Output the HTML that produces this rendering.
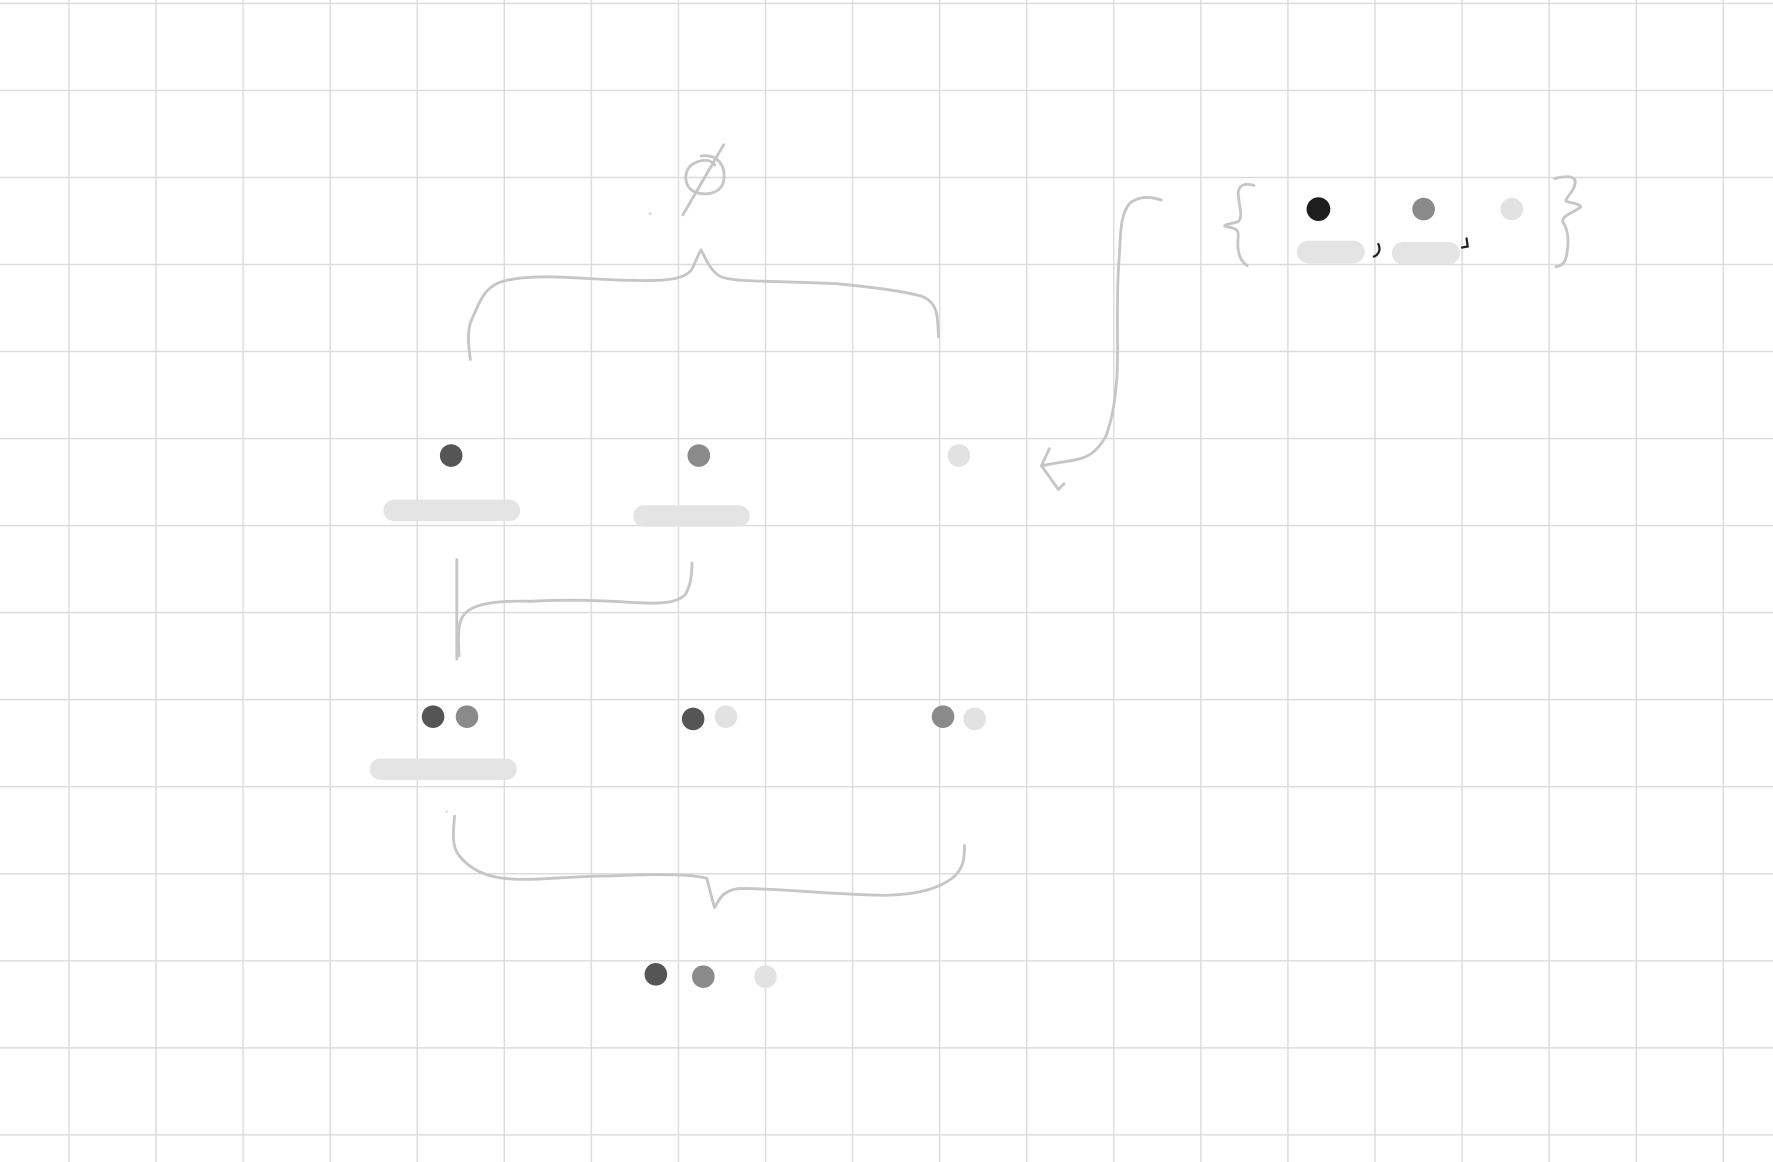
<!DOCTYPE html>
<html><head><meta charset="utf-8"><style>
html,body{margin:0;padding:0;background:#fff;overflow:hidden}
svg{display:block}
</style></head><body>
<svg width="1773" height="1162" viewBox="0 0 1568 1028" preserveAspectRatio="none" xmlns="http://www.w3.org/2000/svg">
<rect width="1568" height="1028" fill="#fff"/>
<g stroke="#dcdcdc" stroke-width="1.3">
<path d="M61 0V1028M138 0V1028M215 0V1028M292 0V1028M369 0V1028M446 0V1028M523 0V1028M600 0V1028M677 0V1028M754 0V1028M831 0V1028M908 0V1028M985 0V1028M1062 0V1028M1139 0V1028M1216 0V1028M1293 0V1028M1370 0V1028M1447 0V1028M1524 0V1028"/>
<path d="M0 3H1568M0 80H1568M0 157H1568M0 234H1568M0 311H1568M0 388H1568M0 465H1568M0 542H1568M0 619H1568M0 696H1568M0 773H1568M0 850H1568M0 927H1568M0 1004H1568"/>
</g>
<g fill="none" stroke="#c6c6c6" stroke-width="2.5" stroke-linecap="round" stroke-linejoin="round">
<!-- phi -->
<path d="M620 138 C636 136 642 148 640 160 C638 170 626 174 615 170 C604 166 604 150 613 145 C620 141 628 140 632 146"/>
<path d="M604 190 L640 128"/>
<!-- top brace -->
<path d="M416 318 C414 305 413 292 417 283 C424 268 428 252 448 248 C480 241 520 248 560 248 C590 249 606 247 612 238 C616 230 618 224 620 221 C624 228 627 238 636 244 C646 250 680 248 740 251 C780 255 800 258 815 262 C830 268 829 280 830 298"/>
<!-- connector bracket -->
<path d="M404 495 L404 583"/>
<path d="M406 580 C405 560 405 548 412 542 C420 534 440 531 470 532 C500 530 530 531 560 533 C590 535 600 532 606 526 C611 518 612 506 612 498"/>
<!-- arrow -->
<path d="M1027 177 C1015 173 1006 174 999 180 C992 188 991 200 990 225 C987 260 989 300 988 330 C986 360 983 372 978 386 C970 400 962 405 950 407 C940 409 930 410 922 412"/>
<path d="M928 397 L921 412 L936 433 L941 428"/>
<!-- bottom brace -->
<path d="M402 722 C401 735 399 748 406 757 C415 768 428 775 445 777 C470 780 500 775 540 775 C580 773 610 773 625 777 C628 788 630 797 632 803 C636 795 640 787 655 786 C690 786 730 791 780 792 C810 792 830 786 842 777 C852 769 853 760 853 748"/>
<!-- set braces -->
<path d="M1109 164 C1102 162 1096 163 1095 170 C1095 180 1100 192 1095 196 C1090 198 1084 198 1083 200 C1090 202 1096 201 1095 210 C1094 220 1095 230 1103 235"/>
<path d="M1375 158 C1382 156 1392 155 1393 160 C1394 168 1384 175 1385 178 C1390 180 1397 180 1398 183 C1392 188 1382 190 1382 196 C1386 202 1388 210 1386 222 C1385 232 1382 235 1376 236"/>
</g>
<!-- commas -->
<g fill="none" stroke="#222" stroke-width="2" stroke-linecap="round">
<path d="M1219 216 C1221 220 1220 225 1215 227"/>
<path d="M1297 211 L1298 218 L1293 219"/>
</g>
<circle cx="575" cy="189" r="0.8" fill="#aaa"/>
<circle cx="395" cy="718" r="0.8" fill="#ccc"/>
<!-- bars -->
<g fill="#e4e4e4">
<rect x="339" y="442" width="121" height="19" rx="9.5"/>
<rect x="560" y="447" width="103" height="19" rx="9.5"/>
<rect x="327" y="671" width="130" height="19" rx="9.5"/>
<rect x="1147" y="213" width="60" height="20" rx="10"/>
<rect x="1231" y="214" width="60" height="20" rx="10"/>
</g>
<!-- dots -->
<circle cx="399" cy="403" r="10" fill="#555"/>
<circle cx="618" cy="403" r="10" fill="#8a8a8a"/>
<circle cx="848" cy="403" r="10" fill="#e2e2e2"/>
<circle cx="383" cy="634" r="10" fill="#555"/>
<circle cx="413" cy="634" r="10" fill="#8a8a8a"/>
<circle cx="613" cy="636" r="10" fill="#555"/>
<circle cx="642" cy="634" r="10" fill="#e2e2e2"/>
<circle cx="834" cy="634" r="10" fill="#8a8a8a"/>
<circle cx="862" cy="636" r="10" fill="#e2e2e2"/>
<circle cx="580" cy="862" r="10" fill="#555"/>
<circle cx="622" cy="864" r="10" fill="#8a8a8a"/>
<circle cx="677" cy="864" r="10" fill="#e2e2e2"/>
<circle cx="1166" cy="185" r="10.5" fill="#1e1e1e"/>
<circle cx="1259" cy="185" r="10" fill="#8a8a8a"/>
<circle cx="1337" cy="185" r="10" fill="#e2e2e2"/>
</svg>
</body></html>
